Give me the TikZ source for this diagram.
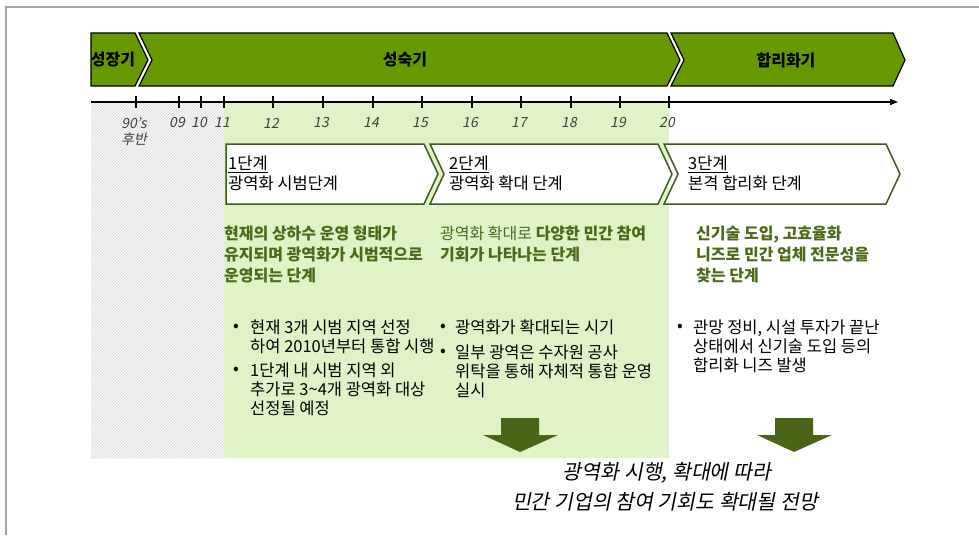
\documentclass[tikz,border=0pt]{standalone}
\usepackage{fontspec}
\setmainfont{Noto Sans CJK KR}
\newfontfamily\slantfont[FakeSlant=0.2]{Noto Sans CJK KR}
\usetikzlibrary{arrows.meta,patterns}
\definecolor{barGreen}{HTML}{669900}
\definecolor{paleGreen}{HTML}{E0F3C6}
\definecolor{stageLine}{HTML}{3E5A1C}
\definecolor{descGreen}{HTML}{4B6A17}
\definecolor{arrowGreen}{HTML}{4A6518}

\begin{document}
\begin{tikzpicture}[x=1pt, y=-1pt,
  every node/.style={inner sep=0pt, font=\fontsize{16.5}{20}\selectfont},
  phase/.style={draw=black, line width=1.2pt, fill=barGreen},
  phasetext/.style={font=\fontsize{16}{20}\selectfont\bfseries},
  stagebox/.style={draw=stageLine, line width=1.5pt, fill=white},
  stagetext/.style={anchor=north west, align=left},
  desc/.style={anchor=north west, align=left, text=descGreen, font=\fontsize{16}{21}\selectfont\bfseries},
  item/.style={anchor=north west, align=left, font=\fontsize{16.5}{19}\selectfont},
  bul/.style={font=\fontsize{17}{17}\selectfont},
  yr/.style={text=black!75, font=\fontsize{14}{15}\slantfont},
  bigarrow/.style={fill=arrowGreen}]
  \useasboundingbox (0,0) rectangle (979,535);
  % frame
  \draw[gray!70, line width=1.5pt] (979,7) -- (6,7) -- (6,535);
  % background bands
  \fill[gray!6] (91,103) rectangle (224,458);
  \fill[pattern=north east lines, pattern color=gray!30] (91,103) rectangle (224,458);
  \fill[paleGreen] (224,103) rectangle (669,458);
  % phase bar
  \draw[phase] (91,33) -- (135,33) -- (148,60) -- (135,86) -- (91,86) -- cycle;
  \draw[phase] (139,33) -- (667,33) -- (680,60) -- (667,86) -- (139,86) -- (152,60) -- cycle;
  \draw[phase] (671,33) -- (893,33) -- (905,60) -- (893,86) -- (671,86) -- (684,60) -- cycle;
  \node[phasetext] (p1) at (113,60) {성장기};
  \node[phasetext] (p2) at (405,60) {성숙기};
  \node[phasetext] (p3) at (786,60) {합리화기};
  % time axis
  \coordinate (axisL) at (91,102);
  \coordinate (axisR) at (898,102);
  \draw[line width=1.2pt, -{Triangle[length=8pt,width=6pt]}] (axisL) -- (axisR);
  \foreach \t in {136,179,201,224,273,323,373,422,472,521,571,620,669}
    \draw[line width=1.2pt] (\t,96) -- (\t,108);
  \foreach \t/\lab [count=\i] in {136/90’s,179/09,201/10,224/11,273/12,323/13,373/14,422/15,472/16,521/17,571/18,620/19,669/20}
    \node[yr] (yr\i) at (\t-2,123) {\lab};
  \node[yr] (yrlate) at (134,139) {후반};
  % stages
  \draw[stagebox] (226,144) -- (424,144) -- (438,174) -- (424,204) -- (226,204) -- cycle;
  \draw[stagebox] (430,144) -- (658,144) -- (672,174) -- (658,204) -- (430,204) -- (444,174) -- cycle;
  \draw[stagebox] (664,144) -- (886,144) -- (900,174) -- (886,204) -- (664,204) -- (678,174) -- cycle;
  \node[stagetext] (s1) at (228,156) {\underline{1단계}\\광역화 시범단계};
  \node[stagetext] (s2) at (449,156) {\underline{2단계}\\광역화 확대 단계};
  \node[stagetext] (s3) at (688,156) {\underline{3단계}\\본격 합리화 단계};
  % stage descriptions
  \node[desc] (d1) at (224,226) {현재의 상하수 운영 형태가\\유지되며 광역화가 시범적으로\\운영되는 단계};
  \node[desc] (d2) at (440,226) {{\mdseries 광역화 확대로} 다양한 민간 참여\\기회가 나타나는 단계};
  \node[desc] (d3) at (696,226) {신기술 도입, 고효율화\\니즈로 민간 업체 전문성을\\찾는 단계};
  % bullet points
  \node[bul] (b1) at (236,328) {•};
  \node[item] (i1) at (250,320) {현재 3개 시범 지역 선정\\하여 2010년부터 통합 시행};
  \node[bul] (b2) at (236,371) {•};
  \node[item] (i2) at (250,363) {1단계 내 시범 지역 외\\추가로 3\textasciitilde4개 광역화 대상\\선정될 예정};
  \node[bul] (b3) at (443,328) {•};
  \node[item] (i3) at (455,320) {광역화가 확대되는 시기};
  \node[bul] (b4) at (443,353) {•};
  \node[item] (i4) at (455,345) {일부 광역은 수자원 공사\\위탁을 통해 자체적 통합 운영\\실시};
  \node[bul] (b5) at (680,328) {•};
  \node[item] (i5) at (693,320) {관망 정비, 시설 투자가 끝난\\상태에서 신기술 도입 등의\\합리화 니즈 발생};
  % outcome arrows
  \fill[bigarrow] (501,418) -- (539,418) -- (539,435) -- (558,435) -- (520,452) -- (483,435) -- (501,435) -- cycle;
  \fill[bigarrow] (775,418) -- (813,418) -- (813,435) -- (832,435) -- (794,452) -- (757,435) -- (775,435) -- cycle;
  \node[font=\fontsize{20.5}{22}\slantfont] (o1) at (667,473) {광역화 시행, 확대에 따라};
  \node[font=\fontsize{20.5}{22}\slantfont] (o2) at (665,502) {민간 기업의 참여 기회도 확대될 전망};
\end{tikzpicture}
\end{document}
